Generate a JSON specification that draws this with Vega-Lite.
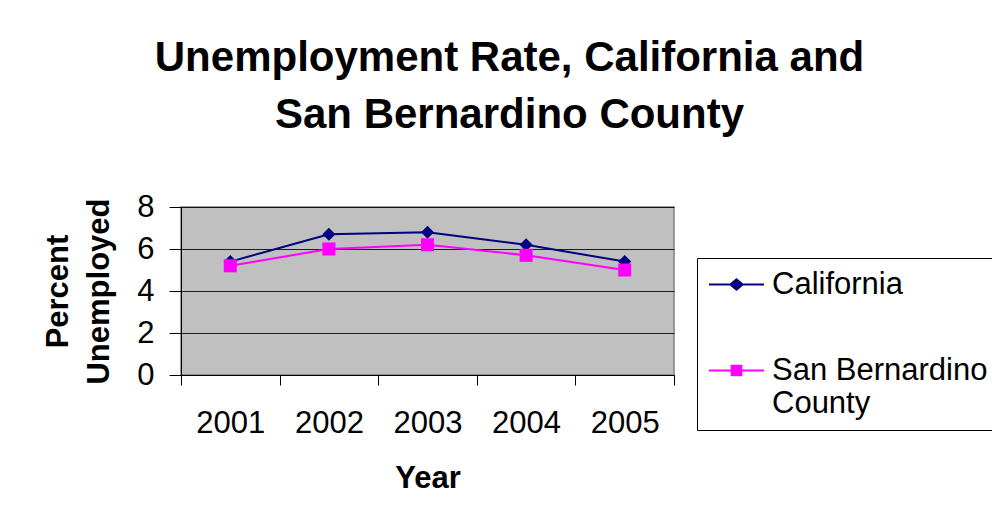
{
  "$schema": "https://vega.github.io/schema/vega-lite/v6.json",
  "width": 493,
  "height": 168,
  "autosize": {"type": "none"},
  "padding": {"left": 181, "top": 207, "right": 318, "bottom": 148},
  "background": "white",
  "title": {
    "text": ["Unemployment Rate, California and", "San Bernardino County"],
    "font": "Liberation Sans",
    "fontSize": 42,
    "fontWeight": "bold",
    "color": "black",
    "lineHeight": 57,
    "anchor": "middle",
    "frame": "group",
    "dx": 82,
    "offset": 54
  },
  "data": {
    "values": [
      {"Year": "2001", "Series": "California", "Rate": 5.4},
      {"Year": "2002", "Series": "California", "Rate": 6.7},
      {"Year": "2003", "Series": "California", "Rate": 6.8},
      {"Year": "2004", "Series": "California", "Rate": 6.2},
      {"Year": "2005", "Series": "California", "Rate": 5.4},
      {"Year": "2001", "Series": "San Bernardino County", "Rate": 5.2},
      {"Year": "2002", "Series": "San Bernardino County", "Rate": 6.0},
      {"Year": "2003", "Series": "San Bernardino County", "Rate": 6.2},
      {"Year": "2004", "Series": "San Bernardino County", "Rate": 5.7},
      {"Year": "2005", "Series": "San Bernardino County", "Rate": 5.0}
    ]
  },
  "encoding": {
    "x": {
      "field": "Year",
      "type": "ordinal",
      "scale": {"paddingInner": 0, "paddingOuter": 0},
      "axis": {
        "title": "Year",
        "labelAngle": 0,
        "tickBand": "extent",
        "tickSize": 10,
        "tickColor": "black",
        "domainColor": "black",
        "labelPadding": 23,
        "labelFont": "Liberation Sans",
        "labelFontSize": 31,
        "labelColor": "black",
        "titleFont": "Liberation Sans",
        "titleFontSize": 31,
        "titleFontWeight": "bold",
        "titleColor": "black",
        "titlePadding": 25,
        "grid": false
      }
    },
    "y": {
      "field": "Rate",
      "type": "quantitative",
      "scale": {"domain": [0, 8], "nice": false},
      "axis": {
        "values": [0, 2, 4, 6, 8],
        "title": ["Percent", "Unemployed"],
        "tickSize": 12,
        "tickColor": "black",
        "domainColor": "black",
        "labelPadding": 15,
        "labelFont": "Liberation Sans",
        "labelFontSize": 31,
        "labelColor": "black",
        "titleFont": "Liberation Sans",
        "titleFontSize": 31,
        "titleFontWeight": "bold",
        "titleColor": "black",
        "titleLineHeight": 41,
        "titlePadding": 21,
        "grid": true,
        "gridColor": "black",
        "gridOpacity": 0.85
      }
    }
  },
  "layer": [
    {
      "mark": {"type": "point", "filled": true, "opacity": 0},
      "encoding": {
        "color": {
          "field": "Series",
          "type": "nominal",
          "scale": {"domain": ["California", "San Bernardino County"], "range": ["#000080", "#FF00FF"]},
          "legend": {
            "title": null,
            "orient": "none",
            "legendX": 516,
            "legendY": 51,
            "padding": 11,
            "fillColor": "white",
            "strokeColor": "black",
            "symbolSize": 169,
            "symbolOffset": 13,
            "symbolOpacity": 1,
            "symbolStrokeWidth": 0,
            "labelOffset": 20,
            "labelFont": "Liberation Sans",
            "labelFontSize": 31,
            "labelColor": "black",
            "labelLimit": 400,
            "rowPadding": 54,
            "labelExpr": "datum.label === 'San Bernardino County' ? ['San Bernardino', 'County'] : datum.label"
          }
        },
        "shape": {
          "field": "Series",
          "type": "nominal",
          "scale": {"domain": ["California", "San Bernardino County"], "range": ["M-4.23,-0.15L-1,-0.15L0,-1L1,-0.15L4.23,-0.15L4.23,0.15L1,0.15L0,1L-1,0.15L-4.23,0.15Z", "M-4.23,-0.15L-0.9,-0.15L-0.9,-0.9L0.9,-0.9L0.9,-0.15L4.23,-0.15L4.23,0.15L0.9,0.15L0.9,0.9L-0.9,0.9L-0.9,0.15L-4.23,0.15Z"]},
          "legend": {
            "title": null,
            "orient": "none",
            "legendX": 516,
            "legendY": 51,
            "padding": 11,
            "fillColor": "white",
            "strokeColor": "black",
            "symbolSize": 169,
            "symbolOffset": 13,
            "symbolOpacity": 1,
            "symbolStrokeWidth": 0,
            "labelOffset": 20,
            "labelFont": "Liberation Sans",
            "labelFontSize": 31,
            "labelColor": "black",
            "labelLimit": 400,
            "rowPadding": 54,
            "labelExpr": "datum.label === 'San Bernardino County' ? ['San Bernardino', 'County'] : datum.label"
          }
        }
      }
    },
    {
      "mark": {"type": "line", "strokeWidth": 2},
      "encoding": {
        "color": {"field": "Series", "type": "nominal"}
      }
    },
    {
      "mark": {"type": "point", "filled": true, "opacity": 1},
      "encoding": {
        "color": {"condition": {"test": "datum.Series === 'California'", "value": "#000080"}, "value": "#FF00FF"},
        "shape": {"condition": {"test": "datum.Series === 'California'", "value": "diamond"}, "value": "square"},
        "size": {"value": 170}
      }
    }
  ],
  "config": {
    "view": {"fill": "#C0C0C0", "stroke": "#808080", "strokeWidth": 1.5}
  }
}
